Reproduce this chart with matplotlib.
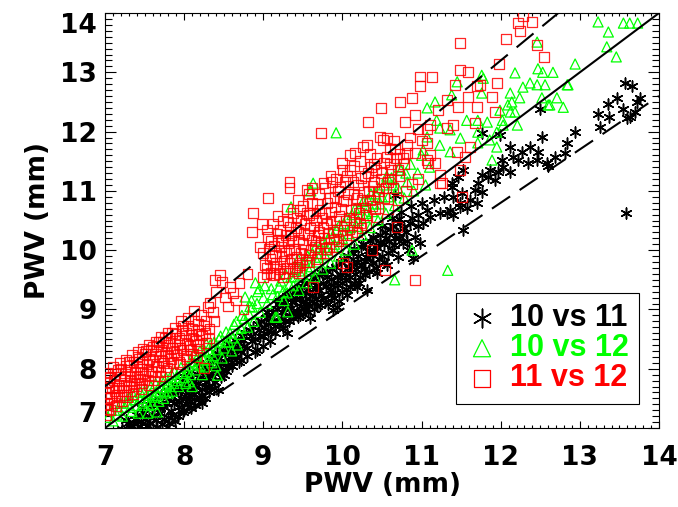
import numpy as np
import matplotlib
matplotlib.use("Agg")
import matplotlib.pyplot as plt
from matplotlib.ticker import MultipleLocator

plt.rcParams.update({
    "font.family": "DejaVu Sans",
    "font.weight": "bold",
    "font.size": 19,
})

# --- data: (PWV a, PWV b) in mm ---
pts_10_11 = [
    # lower cluster
    (7.22, 6.98), (7.29, 7.08), (7.33, 7.01), (7.38, 7.16), (7.41, 6.96), (7.46, 7.11),
    (7.49, 7.26), (7.53, 7.04), (7.56, 7.19), (7.58, 7.48), (7.59, 7.33), (7.61, 6.99),
    (7.64, 7.13), (7.67, 7.41), (7.69, 7.26), (7.72, 7.06), (7.75, 7.36), (7.77, 7.52),
    (7.79, 7.19), (7.83, 7.29), (7.85, 7.60), (7.87, 7.43), (7.89, 7.12), (7.91, 7.67),
    (7.93, 7.36), (7.96, 7.51), (7.98, 7.27), (7.98, 7.88), (8.01, 7.73), (8.03, 7.41),
    (8.05, 7.59), (8.07, 7.86), (8.09, 7.33), (8.11, 7.66), (8.13, 7.49), (8.16, 7.91),
    (8.18, 7.76), (8.18, 8.10), (8.21, 7.56), (8.23, 7.42), (8.25, 8.03), (8.27, 7.69),
    (8.29, 7.86), (8.32, 7.61), (8.34, 8.13), (8.36, 7.96), (8.39, 7.77), (8.41, 8.26),
    (8.43, 8.06), (8.43, 7.64), (8.46, 7.86), (8.49, 8.31), (8.51, 8.13), (8.53, 7.97),
    (8.56, 8.41), (8.59, 8.21), (8.61, 8.04), (8.64, 8.49), (8.67, 8.31), (8.69, 8.12),
    (8.73, 8.56), (8.76, 8.39), (8.79, 8.22), (8.83, 8.66), (8.86, 8.46), (8.89, 8.29),
    (8.92, 8.32), (8.93, 8.76), (8.96, 8.56), (8.99, 8.38), (9.03, 8.86), (9.06, 8.63),
    (9.09, 8.46), (9.15, 8.60), (9.30, 8.60),
    (7.26, 7.14), (7.31, 6.97), (7.36, 7.09), (7.40, 7.22), (7.44, 7.03), (7.47, 7.33),
    (7.51, 7.15), (7.54, 7.40), (7.57, 7.08), (7.62, 7.22), (7.63, 7.45), (7.66, 7.02),
    (7.70, 7.33), (7.71, 7.55), (7.74, 7.15), (7.78, 7.43), (7.80, 7.62), (7.81, 7.09),
    (7.84, 7.22), (7.86, 7.52), (7.88, 7.72), (7.92, 7.20), (7.94, 7.44), (7.95, 7.62),
    (7.97, 7.80), (8.00, 7.30), (8.02, 7.52), (8.04, 7.68), (8.06, 7.94), (8.08, 7.45),
    (8.10, 7.80), (8.12, 7.58), (8.14, 7.38), (8.15, 7.70), (8.19, 7.50), (8.20, 7.85),
    (8.22, 7.65), (8.24, 7.95), (8.26, 7.50), (8.28, 7.78), (8.30, 8.05), (8.31, 7.70),
    (8.35, 7.88), (8.37, 8.20), (8.38, 7.68), (8.40, 8.00), (8.44, 8.18), (8.45, 7.95),
    (8.47, 8.08), (8.50, 7.90), (8.52, 8.25), (8.55, 8.05), (8.57, 8.33), (8.60, 8.12),
    (8.62, 8.40), (8.65, 8.20), (8.68, 8.45), (8.70, 8.30), (8.72, 8.15), (8.74, 8.48),
    (8.78, 8.60), (8.80, 8.35), (8.84, 8.55), (8.87, 8.70), (8.90, 8.50), (8.94, 8.65),
    (8.97, 8.80), (9.00, 8.55), (9.01, 8.70), (9.05, 8.95), (9.08, 8.78), (9.10, 8.62),
    # middle cluster
    (9.12, 8.95), (9.15, 8.72), (9.18, 9.10), (9.22, 8.85), (9.25, 8.68), (9.28, 9.02),
    (9.30, 9.22), (9.33, 8.80), (9.36, 9.12), (9.38, 8.95), (9.41, 9.30), (9.44, 8.88),
    (9.46, 9.18), (9.46, 8.91), (9.49, 9.40), (9.52, 9.02), (9.54, 9.28), (9.57, 8.95),
    (9.59, 8.86), (9.60, 9.48), (9.62, 9.15), (9.65, 9.35), (9.68, 9.05), (9.70, 9.58),
    (9.73, 9.25), (9.76, 9.45), (9.78, 9.12), (9.81, 9.65), (9.84, 9.32), (9.86, 9.52),
    (9.88, 8.99), (9.89, 9.20), (9.92, 9.72), (9.93, 9.04), (9.94, 9.42), (9.97, 9.60),
    (10.00, 9.30), (10.02, 9.85), (10.05, 9.50), (10.06, 9.24), (10.08, 9.70), (10.10, 9.38),
    (10.13, 9.95), (10.16, 9.60), (10.18, 9.80), (10.18, 9.38), (10.21, 9.45), (10.24, 10.05),
    (10.27, 9.68), (10.30, 9.88), (10.31, 9.33), (10.35, 10.15), (10.38, 9.78), (10.41, 9.98),
    (10.44, 9.62), (10.47, 10.25), (10.50, 9.90), (10.50, 10.40), (10.53, 10.10), (10.55, 10.20),
    (10.56, 9.75), (10.60, 10.35), (10.62, 10.55), (10.63, 10.00), (10.66, 10.20), (10.66, 10.93),
    (10.68, 10.30), (10.70, 9.88), (10.73, 10.45), (10.74, 10.65), (10.76, 10.12), (10.80, 10.30),
    (10.84, 10.00), (10.86, 10.75), (10.88, 10.55), (10.89, 9.87), (10.92, 10.22), (10.95, 10.60),
    (10.96, 10.40), (10.98, 10.12),
    (9.14, 8.82), (9.17, 9.00), (9.20, 8.75), (9.21, 9.15), (9.24, 8.95), (9.27, 8.80),
    (9.29, 9.12), (9.32, 8.90), (9.34, 9.25), (9.35, 9.02), (9.37, 8.85), (9.40, 9.18),
    (9.42, 8.98), (9.43, 9.35), (9.47, 9.05), (9.48, 9.28), (9.50, 8.92), (9.51, 9.45),
    (9.53, 9.15), (9.56, 9.35), (9.58, 9.05), (9.61, 9.25), (9.63, 9.55), (9.64, 9.00),
    (9.66, 9.42), (9.67, 9.18), (9.71, 9.32), (9.72, 9.08), (9.74, 9.62), (9.75, 9.20),
    (9.79, 9.40), (9.80, 9.55), (9.82, 9.10), (9.85, 9.25), (9.87, 9.68), (9.88, 9.42),
    (9.91, 9.30), (9.93, 9.55), (9.96, 9.15), (9.98, 9.80), (9.99, 9.45), (10.03, 9.62),
    (10.04, 9.35), (10.07, 9.90), (10.09, 9.55), (10.11, 9.78), (10.14, 9.45), (10.15, 10.02),
    (10.17, 9.68), (10.20, 9.90), (10.22, 9.55), (10.23, 9.75), (10.26, 10.10), (10.28, 9.58),
    (10.29, 9.82), (10.33, 10.00), (10.34, 9.65), (10.37, 9.92), (10.39, 10.22), (10.42, 9.70),
    (10.43, 10.05), (10.46, 9.85), (10.48, 10.12), (10.52, 9.80), (10.54, 10.30), (10.58, 9.95),
    (10.59, 10.15), (10.64, 10.40), (10.65, 10.08), (10.71, 10.20), (10.72, 10.52), (10.78, 10.38),
    (10.82, 10.15), (10.85, 10.45),
    # upper, sparser part
    (11.00, 10.80), (11.02, 10.45), (11.07, 10.68), (11.11, 10.56), (11.16, 10.85), (11.23, 10.63),
    (11.28, 10.90), (11.32, 10.63), (11.36, 10.68), (11.38, 11.07), (11.40, 10.59), (11.40, 10.90),
    (11.38, 11.13), (11.46, 11.23), (11.49, 10.73), (11.49, 10.79), (11.51, 10.96), (11.52, 10.34),
    (11.52, 11.35), (11.57, 10.71), (11.61, 10.85), (11.68, 11.01), (11.70, 10.79), (11.71, 11.13),
    (11.76, 10.98), (11.76, 11.27), (11.84, 11.23), (11.86, 11.35), (11.93, 11.18), (11.97, 11.32),
    (12.02, 11.52), (12.03, 11.40), (12.12, 11.32), (11.76, 11.98), (11.99, 11.94), (12.12, 11.74),
    (12.16, 11.57), (12.22, 11.52), (12.27, 11.66), (12.35, 11.47), (12.37, 11.74), (12.46, 11.52),
    (12.47, 11.66), (12.52, 11.91), (12.58, 11.47), (12.60, 11.42), (12.69, 11.57), (12.81, 11.64),
    (12.84, 11.81), (12.94, 11.99), (12.50, 12.38), (13.23, 12.30), (13.25, 12.08), (13.37, 12.25),
    (13.36, 12.46), (13.47, 12.57), (13.55, 12.38), (13.57, 12.82), (13.60, 12.23), (13.63, 12.25),
    (13.66, 12.77), (13.70, 12.33), (13.72, 12.50), (13.76, 12.57), (13.58, 10.63),
]

pts_10_12 = [
    # lower cluster
    (7.04, 7.18), (7.08, 7.30), (7.15, 7.22), (7.20, 7.42), (7.25, 7.35), (7.30, 7.52),
    (7.34, 7.28), (7.38, 7.48), (7.42, 7.25), (7.45, 7.60), (7.48, 7.42), (7.52, 7.55),
    (7.54, 7.25), (7.55, 7.38), (7.58, 7.70), (7.62, 7.52), (7.65, 7.62), (7.66, 7.27),
    (7.68, 7.45), (7.72, 7.80), (7.75, 7.62), (7.78, 7.72), (7.80, 7.59), (7.84, 7.90),
    (7.87, 7.75), (7.90, 7.85), (7.93, 7.70), (7.96, 8.02), (8.00, 7.85), (8.03, 7.95),
    (8.06, 7.78), (8.10, 8.12), (8.10, 7.70), (8.14, 7.98), (8.17, 8.20), (8.20, 8.05),
    (8.23, 7.90), (8.26, 8.30), (8.26, 8.03), (8.30, 8.15), (8.33, 8.40), (8.36, 8.22),
    (8.40, 8.05), (8.42, 7.89), (8.44, 8.50), (8.48, 8.18), (8.50, 8.35), (8.53, 8.62),
    (8.56, 8.45), (8.60, 8.30), (8.63, 8.75), (8.67, 8.40), (8.70, 8.58), (8.73, 8.90),
    (8.77, 9.21), (8.80, 8.70), (8.83, 9.05), (8.86, 9.04), (8.88, 8.80), (8.90, 9.45),
    (8.93, 9.30), (8.96, 8.95), (9.00, 9.20),
    (7.10, 7.12), (7.18, 7.30), (7.22, 7.20), (7.28, 7.42), (7.32, 7.35), (7.36, 7.55),
    (7.40, 7.38), (7.44, 7.50), (7.50, 7.62), (7.53, 7.45), (7.57, 7.58), (7.60, 7.40),
    (7.64, 7.75), (7.67, 7.55), (7.70, 7.68), (7.74, 7.50), (7.77, 7.85), (7.82, 7.70),
    (7.85, 7.62), (7.88, 7.95), (7.92, 7.80), (7.98, 7.92), (8.02, 7.75), (8.05, 8.05),
    (8.08, 7.90), (8.12, 8.25), (8.16, 8.08), (8.20, 8.30), (8.24, 8.15), (8.28, 8.42),
    (8.32, 8.28), (8.35, 8.10), (8.38, 8.45), (8.42, 8.32), (8.46, 8.55), (8.52, 8.45),
    (8.58, 8.60), (8.62, 8.52), (8.66, 8.80), (8.72, 8.68), (8.76, 8.85), (8.82, 8.92),
    (8.85, 9.15), (8.92, 9.10), (8.95, 9.35), (9.02, 9.40),
    # middle cluster
    (9.05, 9.10), (9.10, 9.35), (9.15, 8.87), (9.18, 9.22), (9.22, 9.48), (9.26, 9.15),
    (9.30, 9.28), (9.31, 8.96), (9.35, 9.55), (9.35, 10.73), (9.38, 9.40), (9.42, 9.70),
    (9.45, 9.32), (9.48, 9.58), (9.52, 9.82), (9.55, 9.45), (9.58, 9.65), (9.60, 11.00),
    (9.62, 9.95), (9.63, 11.13), (9.65, 9.55), (9.68, 9.80), (9.72, 10.05), (9.75, 9.68),
    (9.78, 9.92), (9.82, 10.20), (9.85, 9.78), (9.88, 10.05), (9.92, 11.98), (9.92, 10.35),
    (9.95, 9.90), (9.98, 10.15), (10.02, 10.45), (10.05, 10.00), (10.08, 10.28), (10.12, 10.60),
    (10.15, 10.10), (10.18, 10.40), (10.22, 10.72), (10.25, 10.25), (10.28, 10.55), (10.32, 10.85),
    (10.35, 10.38), (10.38, 10.65), (10.42, 10.95), (10.45, 10.50), (10.48, 10.78), (10.52, 11.10),
    (10.55, 10.62), (10.58, 10.90), (10.62, 11.22), (10.66, 10.75), (10.70, 11.05), (10.74, 11.35),
    (10.78, 10.88), (10.82, 11.15), (10.86, 11.45), (10.90, 11.00), (10.95, 11.30), (11.00, 11.60),
    (11.05, 11.10), (11.10, 11.40), (10.66, 9.50), (11.33, 9.66), (10.88, 10.00), (9.17, 8.87),
    (9.12, 9.25), (9.20, 9.38), (9.25, 9.30), (9.28, 9.60), (9.33, 9.42), (9.40, 9.55),
    (9.44, 9.85), (9.50, 9.65), (9.56, 9.90), (9.60, 9.72), (9.66, 10.05), (9.70, 9.88),
    (9.76, 10.15), (9.80, 10.00), (9.86, 10.30), (9.90, 10.10), (9.96, 10.42), (10.00, 10.20),
    (10.06, 10.55), (10.10, 10.38), (10.16, 10.70), (10.20, 10.50), (10.26, 10.82), (10.30, 10.62),
    (10.36, 10.95), (10.40, 10.78), (10.46, 11.05), (10.50, 10.90), (10.56, 11.25), (10.64, 11.10),
    (10.72, 11.40), (10.80, 11.30),
    # upper, sparser part
    (11.02, 11.69), (11.07, 11.91), (11.07, 12.40), (11.17, 12.50), (11.19, 12.19), (11.23, 12.06),
    (11.23, 11.77), (11.36, 12.03), (11.36, 11.66), (11.38, 12.62), (11.45, 12.84), (11.49, 11.89),
    (11.57, 12.19), (11.71, 11.99), (11.71, 11.81), (11.71, 12.19), (11.76, 12.65), (11.76, 12.95),
    (11.78, 12.90), (11.83, 12.16), (11.86, 11.86), (11.89, 11.52), (11.95, 11.74), (11.95, 11.99),
    (11.99, 12.36), (12.02, 12.19), (12.03, 12.11), (12.09, 12.45), (12.12, 12.65), (12.12, 12.33),
    (12.14, 12.50), (12.18, 12.33), (12.18, 12.99), (12.21, 12.11), (12.24, 12.57), (12.28, 12.75),
    (12.37, 12.82), (12.46, 12.79), (12.46, 13.51), (12.47, 13.06), (12.52, 12.57), (12.53, 13.00),
    (12.56, 12.79), (12.60, 12.45), (12.62, 12.45), (12.66, 13.00), (12.71, 12.57), (12.79, 12.41),
    (12.84, 12.79), (12.85, 12.79), (12.94, 13.14), (13.23, 13.85), (13.34, 13.43), (13.36, 13.68),
    (13.46, 13.26), (13.55, 13.83), (13.63, 13.83), (13.73, 13.83),
]

pts_11_12 = [
    # lower cluster
    (7.01, 7.22), (7.02, 7.41), (7.01, 7.59), (7.03, 7.77), (7.02, 7.93),
    (7.07, 7.31), (7.08, 7.52), (7.09, 7.67), (7.06, 7.86), (7.10, 8.03),
    (7.14, 7.37), (7.15, 7.56), (7.17, 7.73), (7.13, 7.91), (7.19, 8.10),
    (7.21, 7.46), (7.23, 7.63), (7.24, 7.81), (7.20, 7.99), (7.26, 8.15),
    (7.28, 7.52), (7.30, 7.69), (7.31, 7.87), (7.27, 8.05), (7.34, 8.23),
    (7.35, 7.58), (7.37, 7.75), (7.38, 7.93), (7.36, 8.11), (7.42, 8.28),
    (7.44, 7.81), (7.45, 7.99), (7.43, 8.17), (7.48, 8.34), (7.46, 7.66),
    (7.51, 7.88), (7.53, 8.07), (7.50, 8.25), (7.56, 8.41), (7.55, 7.72),
    (7.59, 7.95), (7.61, 8.13), (7.58, 8.31), (7.64, 8.46), (7.62, 7.80),
    (7.67, 8.03), (7.69, 8.21), (7.66, 8.39), (7.71, 8.53), (7.69, 7.88),
    (7.75, 8.09), (7.77, 8.27), (7.73, 8.45), (7.79, 8.61), (7.77, 7.96),
    (7.83, 8.17), (7.85, 8.35), (7.81, 8.52), (7.88, 8.69), (7.86, 8.10),
    (7.91, 8.23), (7.93, 8.41), (7.89, 8.58), (7.96, 8.80), (7.95, 8.08),
    (7.99, 8.31), (8.01, 8.49), (7.97, 8.66), (8.05, 8.86), (8.03, 8.17),
    (8.07, 8.39), (8.09, 8.57), (8.05, 8.73), (8.12, 8.97), (8.11, 8.25),
    (8.15, 8.47), (8.17, 8.65), (8.13, 8.81), (8.16, 8.20), (8.19, 8.34),
    (8.23, 8.56), (8.25, 8.73), (8.21, 8.91), (8.25, 8.01), (8.28, 8.43),
    (8.31, 8.51), (8.32, 8.68), (8.33, 9.11), (8.30, 9.04), (8.36, 8.96),
    (8.40, 9.30), (8.39, 9.50), (8.45, 9.58), (8.48, 9.46), (8.52, 9.20),
    (8.55, 9.05), (8.58, 9.38), (8.62, 9.28), (8.66, 9.15), (8.70, 9.45),
    (8.75, 9.00), (8.80, 9.60), (8.38, 8.80),
    (7.04, 7.32), (7.05, 7.50), (7.04, 7.68), (7.05, 7.85), (7.11, 7.42), (7.12, 7.62),
    (7.11, 7.80), (7.16, 7.98), (7.18, 7.52), (7.18, 7.68), (7.19, 7.87), (7.25, 7.55),
    (7.26, 7.72), (7.25, 7.92), (7.30, 8.12), (7.33, 7.62), (7.33, 7.80), (7.32, 7.98),
    (7.39, 7.70), (7.40, 7.86), (7.40, 8.05), (7.41, 8.20), (7.47, 7.75), (7.48, 7.93),
    (7.47, 8.12), (7.52, 8.30), (7.54, 7.80), (7.55, 7.98), (7.56, 8.17), (7.61, 8.36),
    (7.63, 7.88), (7.64, 8.05), (7.63, 8.25), (7.68, 8.45), (7.70, 7.95), (7.72, 8.14),
    (7.71, 8.32), (7.76, 8.52), (7.79, 8.02), (7.80, 8.22), (7.79, 8.40), (7.85, 8.60),
    (7.87, 8.28), (7.88, 8.47), (7.93, 8.12), (7.95, 8.35), (7.94, 8.52), (7.99, 8.72),
    (8.02, 8.22), (8.04, 8.42), (8.02, 8.60), (8.09, 8.32), (8.11, 8.50), (8.10, 8.68),
    (8.18, 8.40), (8.19, 8.58), (8.18, 8.76), (8.27, 8.60), (8.28, 8.80),
    # middle cluster
    (8.87, 10.63), (8.86, 10.31), (8.98, 10.44), (9.06, 10.88), (9.21, 10.34), (8.96, 10.05),
    (9.00, 9.55), (9.00, 9.95), (9.05, 9.70), (9.08, 9.85), (9.10, 10.15), (9.12, 9.72),
    (9.15, 9.95), (9.19, 10.17), (9.06, 10.22), (9.20, 9.60), (9.22, 10.05), (9.25, 9.55),
    (9.26, 9.82), (9.28, 10.25), (9.30, 9.70), (9.32, 10.00), (9.34, 10.40), (9.33, 11.15),
    (9.33, 11.05), (9.36, 9.85), (9.38, 10.15), (9.40, 9.65), (9.42, 10.55), (9.43, 9.72),
    (9.44, 10.30), (9.46, 10.68), (9.47, 9.95), (9.50, 10.10), (9.52, 10.45), (9.54, 9.80),
    (9.55, 11.01), (9.56, 10.25), (9.58, 10.60), (9.60, 10.00), (9.63, 10.63), (9.63, 9.38),
    (9.64, 10.40), (9.66, 10.15), (9.68, 10.78), (9.70, 10.30), (9.72, 9.95), (9.73, 11.98),
    (9.74, 10.55), (9.76, 11.13), (9.77, 10.20), (9.80, 10.45), (9.81, 10.79), (9.83, 10.05),
    (9.86, 10.65), (9.87, 11.15), (9.88, 10.30), (9.90, 10.90), (9.92, 10.50), (9.95, 10.15),
    (9.97, 11.07), (9.98, 10.70), (9.99, 11.47), (10.01, 9.78), (10.02, 10.40), (10.03, 11.15),
    (10.05, 10.85), (10.06, 9.72), (10.08, 10.55), (10.10, 11.35), (10.10, 11.61), (10.12, 10.25),
    (10.14, 10.95), (10.16, 11.64), (10.17, 10.70), (10.20, 11.10), (10.22, 10.45), (10.25, 10.85),
    (10.26, 11.74), (10.28, 11.25), (10.30, 10.60), (10.31, 11.77), (10.32, 12.16), (10.33, 11.00),
    (10.36, 11.40), (10.37, 10.00), (10.38, 10.75), (10.40, 11.15), (10.43, 11.55), (10.45, 10.90),
    (10.47, 11.91), (10.49, 12.40), (10.50, 11.30), (10.51, 11.86), (10.54, 9.66), (10.55, 11.05),
    (10.56, 11.57), (10.56, 11.89), (10.60, 11.45), (10.62, 11.20), (10.66, 11.70), (10.69, 10.39),
    (10.70, 11.35), (10.73, 12.50), (10.76, 11.55), (10.79, 12.16), (10.82, 11.64), (10.82, 11.77),
    (10.88, 12.57), (10.92, 11.64), (10.92, 12.28), (10.92, 9.50),
    (9.02, 9.75), (9.04, 9.60), (9.07, 10.02), (9.09, 9.62), (9.11, 9.90), (9.13, 10.08),
    (9.14, 9.58), (9.16, 9.78), (9.18, 10.28), (9.21, 9.68), (9.23, 9.90), (9.24, 10.15),
    (9.27, 9.62), (9.29, 9.95), (9.31, 10.12), (9.31, 10.48), (9.33, 9.78), (9.35, 10.25),
    (9.37, 9.68), (9.39, 10.02), (9.41, 10.38), (9.42, 9.88), (9.45, 10.18), (9.46, 9.75),
    (9.48, 10.50), (9.49, 9.85), (9.51, 10.28), (9.53, 10.00), (9.55, 10.62), (9.57, 9.92),
    (9.59, 10.38), (9.61, 10.18), (9.62, 10.80), (9.65, 10.05), (9.67, 10.50), (9.69, 10.25),
    (9.71, 10.68), (9.73, 10.12), (9.75, 10.38), (9.78, 10.62), (9.79, 10.02), (9.82, 10.28),
    (9.84, 10.88), (9.85, 10.50), (9.89, 10.18), (9.91, 10.72), (9.93, 10.35), (9.94, 11.00),
    (9.96, 10.58), (10.00, 10.25), (10.01, 10.82), (10.04, 10.50), (10.07, 10.95), (10.09, 10.35),
    (10.11, 10.68), (10.13, 11.15), (10.15, 10.48), (10.18, 10.88), (10.21, 10.62), (10.23, 11.22),
    (10.24, 10.38), (10.27, 10.98), (10.29, 10.72), (10.32, 11.30), (10.35, 10.85), (10.38, 11.08),
    (10.41, 10.70), (10.42, 11.35), (10.46, 11.00), (10.48, 11.20), (10.52, 10.88), (10.53, 11.48),
    (10.58, 11.15), (10.61, 11.35), (10.64, 11.05), (10.68, 11.55), (10.72, 11.25), (10.78, 11.45),
    (9.05, 10.35), (9.12, 10.45), (9.18, 10.58), (9.25, 10.50), (9.30, 10.70), (9.38, 10.62),
    (9.44, 10.85), (9.50, 10.75), (9.57, 10.95), (9.62, 11.05), (9.70, 10.95), (9.78, 11.05),
    (9.85, 11.25), (9.92, 11.20), (10.00, 11.35), (10.06, 11.25), (10.15, 11.42), (10.22, 11.50),
    (10.35, 11.62), (10.40, 11.45), (10.60, 11.70), (10.65, 11.85), (10.72, 11.62), (10.85, 11.90),
    (10.95, 12.05), (11.00, 11.85),
    (9.45, 9.62), (9.58, 9.80), (9.68, 9.85), (9.80, 9.95), (9.92, 10.05), (10.05, 10.18),
    (10.18, 10.30), (10.30, 10.42), (10.44, 10.55), (10.58, 10.70), (10.70, 10.85), (10.80, 11.00),
    (10.88, 11.12), (10.95, 11.20),
    # upper, sparser part
    (10.98, 12.93), (10.98, 12.77), (11.07, 11.81), (11.07, 12.04), (11.07, 11.52), (11.08, 11.47),
    (11.11, 12.11), (11.11, 11.61), (11.13, 12.92), (11.17, 11.47), (11.21, 12.36), (11.23, 11.27),
    (11.23, 11.13), (11.26, 11.13), (11.32, 12.06), (11.32, 12.53), (11.40, 12.11), (11.42, 12.79),
    (11.45, 11.66), (11.46, 12.41), (11.49, 13.49), (11.49, 13.04), (11.49, 11.35), (11.51, 10.90),
    (11.55, 11.57), (11.59, 13.00), (11.59, 12.59), (11.61, 11.74), (11.68, 12.14), (11.70, 12.77),
    (11.70, 12.41), (11.74, 12.79), (11.89, 12.59), (11.93, 12.33), (11.95, 12.82), (11.98, 13.14),
    (12.07, 13.56), (12.22, 13.83), (12.24, 13.70), (12.28, 13.95), (12.40, 13.85), (12.46, 13.46),
    (12.55, 13.26),
]

series_labels = ["10 vs 11", "10 vs 12", "11 vs 12"]
series_colors = ["black", "#00ff00", "#ff0000"]
tick_values = [7, 8, 9, 10, 11, 12, 13, 14]
ratio_lines = [1.0, 1.1, 0.9]

fig = plt.figure(figsize=(6.78, 5.07), dpi=100)
ax = fig.add_axes([0.1549, 0.1558, 0.8171, 0.8185])

x1, y1 = np.array(pts_10_11).T
x2, y2 = np.array(pts_10_12).T
x3, y3 = np.array(pts_11_12).T

ax.scatter(x1, y1, s=62, marker=(6, 2, 0), color=series_colors[0],
           linewidths=1.1, label=series_labels[0], zorder=2)
ax.scatter(x2, y2, s=52, marker="^", facecolors="none",
           edgecolors=series_colors[1], linewidths=0.9,
           label=series_labels[1], zorder=3)
ax.scatter(x3, y3, s=50, marker="s", facecolors="none",
           edgecolors=series_colors[2], linewidths=0.9, alpha=0.85,
           label=series_labels[2], zorder=4)

# 1:1 line and +/-10% lines
xx = np.array([7.0, 14.0])
ax.plot(xx, ratio_lines[0] * xx, color="black", lw=1.5, zorder=5)
for r in ratio_lines[1:]:
    ax.plot(xx, r * xx, color="black", lw=1.5, dashes=(10.5, 5.5), zorder=5)

ax.set_xlim(7, 14)
ax.set_ylim(7, 14)
ax.set_xticks(tick_values)
ax.set_yticks(tick_values)
ax.xaxis.set_minor_locator(MultipleLocator(0.1))
ax.yaxis.set_minor_locator(MultipleLocator(0.1))
ax.tick_params(which="both", direction="in", top=True, right=True, width=0.8)
ax.tick_params(axis="x", which="major", length=5, pad=12)
ax.tick_params(axis="x", which="minor", length=2.5)
ax.tick_params(axis="y", which="major", length=8, pad=6)
ax.tick_params(axis="y", which="minor", length=4.7)
for sp in ax.spines.values():
    sp.set_linewidth(0.8)

ylabels = ax.get_yticklabels()
ylabels[0].set_va("bottom")
ylabels[-1].set_va("top")

ax.set_xlabel("PWV (mm)", fontweight="bold", labelpad=1)
ax.set_ylabel("PWV (mm)", fontweight="bold", labelpad=6)

leg = ax.legend(loc="lower right", bbox_to_anchor=(0.964, 0.058), borderaxespad=0,
                prop={"family": "Liberation Sans", "weight": "bold", "size": 22},
                labelcolor=series_colors, markerscale=1.7, handlelength=1.0,
                handletextpad=0.4, labelspacing=0.0, borderpad=0.35,
                fancybox=False, framealpha=1, edgecolor="black", scatterpoints=1)
leg.get_frame().set_linewidth(0.8)
for h in leg.legend_handles:
    h.set_alpha(1)

fig.savefig("out.png", dpi=100)
